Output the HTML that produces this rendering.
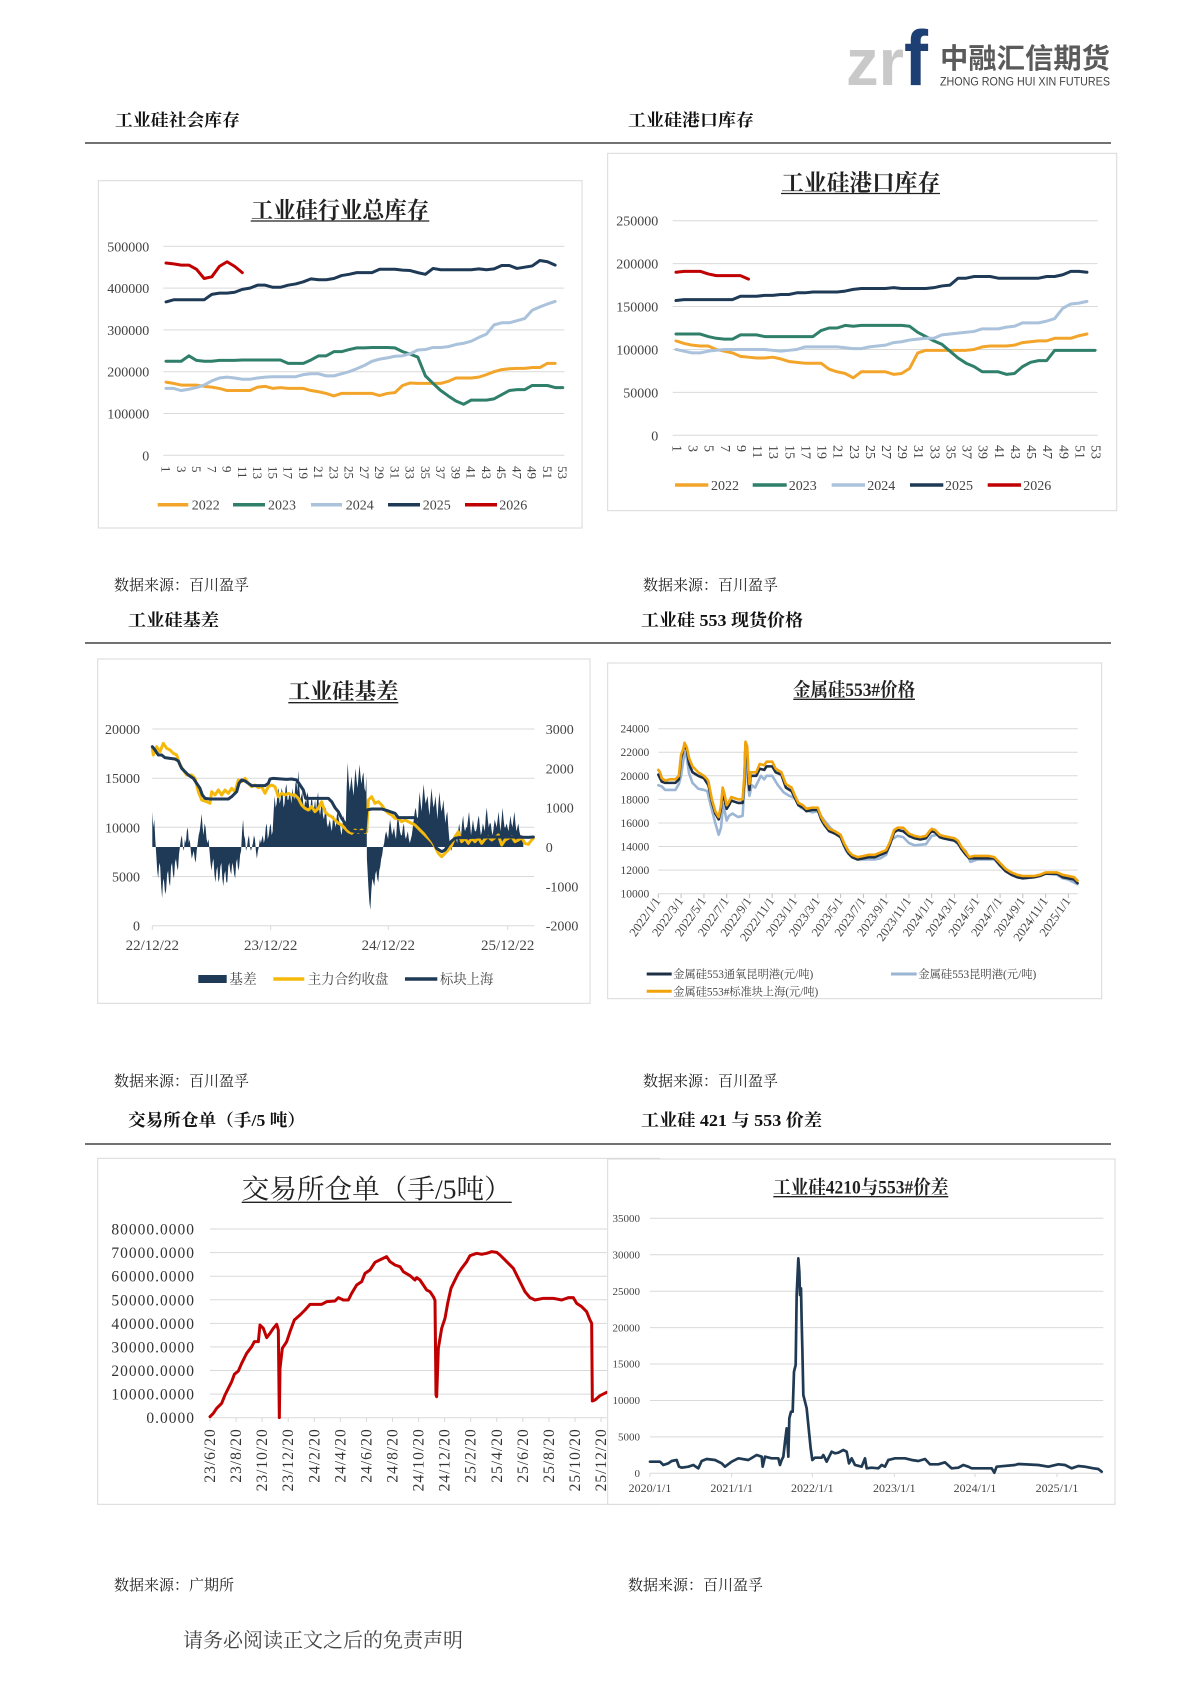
<!DOCTYPE html>
<html><head><meta charset="utf-8"><style>
html,body{margin:0;padding:0;background:#fff;}
svg{display:block;}
text{font-family:"Liberation Serif","Noto Serif CJK SC",serif;}
.ln{fill:none;stroke-linejoin:round;stroke-linecap:round;}
</style></head><body>
<svg width="1190" height="1683" viewBox="0 0 1190 1683" xmlns="http://www.w3.org/2000/svg">
<rect x="0" y="0" width="1190" height="1683" fill="#fff"/>

<!-- LOGO -->
<text x="846" y="85" font-weight="bold" font-size="66" fill="#c9c9c9" textLength="58" lengthAdjust="spacingAndGlyphs" style="font-family:'Liberation Sans',sans-serif">zr</text>
<text x="904" y="85" font-weight="bold" font-size="78" fill="#1d3f73" textLength="24" lengthAdjust="spacingAndGlyphs" style="font-family:'Liberation Sans',sans-serif">f</text>
<text x="940" y="68" font-weight="bold" font-size="28" fill="#5a5a5a" textLength="170" lengthAdjust="spacingAndGlyphs" style="font-family:'Liberation Sans','Noto Sans CJK SC',sans-serif">中融汇信期货</text>
<text x="940" y="85.5" font-size="11.5" fill="#444" textLength="170" lengthAdjust="spacingAndGlyphs" style="font-family:'Liberation Sans',sans-serif">ZHONG RONG HUI XIN FUTURES</text>

<!-- SECTION HEADERS -->
<g font-size="17" font-weight="bold" fill="#111">
<text x="115" y="126" textLength="125" lengthAdjust="spacingAndGlyphs">工业硅社会库存</text>
<text x="628" y="126" textLength="126" lengthAdjust="spacingAndGlyphs">工业硅港口库存</text>
<text x="128" y="626" textLength="91" lengthAdjust="spacingAndGlyphs">工业硅基差</text>
<text x="641" y="626" textLength="162" lengthAdjust="spacingAndGlyphs">工业硅 553 现货价格</text>
<text x="128" y="1126" textLength="177" lengthAdjust="spacingAndGlyphs">交易所仓单（手/5 吨）</text>
<text x="641" y="1126" textLength="181" lengthAdjust="spacingAndGlyphs">工业硅 421 与 553 价差</text>
</g>
<g stroke="#444" stroke-width="1.5">
<line x1="85" y1="143" x2="1111" y2="143"/>
<line x1="85" y1="643" x2="1111" y2="643"/>
<line x1="85" y1="1144" x2="1111" y2="1144"/>
</g>

<!-- SOURCES -->
<g font-size="15" fill="#222">
<text x="114" y="590" textLength="135" lengthAdjust="spacingAndGlyphs">数据来源：百川盈孚</text>
<text x="643" y="590" textLength="135" lengthAdjust="spacingAndGlyphs">数据来源：百川盈孚</text>
<text x="114" y="1086" textLength="135" lengthAdjust="spacingAndGlyphs">数据来源：百川盈孚</text>
<text x="643" y="1086" textLength="135" lengthAdjust="spacingAndGlyphs">数据来源：百川盈孚</text>
<text x="114" y="1590" textLength="120" lengthAdjust="spacingAndGlyphs">数据来源：广期所</text>
<text x="628" y="1590" textLength="135" lengthAdjust="spacingAndGlyphs">数据来源：百川盈孚</text>
</g>
<text x="183" y="1647" font-size="20" fill="#444" textLength="280" lengthAdjust="spacingAndGlyphs">请务必阅读正文之后的免责声明</text>

<!-- ================= CHART 1 ================= -->
<rect x="98.3" y="180.7" width="483.7" height="347.3" fill="#fff" stroke="#d9d9d9" stroke-width="1"/>
<text x="340" y="218" font-size="23" font-weight="bold" fill="#222" text-anchor="middle" textLength="178" lengthAdjust="spacingAndGlyphs">工业硅行业总库存</text>
<line x1="250.7" y1="221" x2="429.3" y2="221" stroke="#222" stroke-width="1.3"/>
<g stroke="#d9d9d9" stroke-width="1">
<line x1="163.3" y1="246.3" x2="564.3" y2="246.3"/><line x1="163.3" y1="288.1" x2="564.3" y2="288.1"/>
<line x1="163.3" y1="329.9" x2="564.3" y2="329.9"/><line x1="163.3" y1="371.7" x2="564.3" y2="371.7"/>
<line x1="163.3" y1="413.5" x2="564.3" y2="413.5"/><line x1="163.3" y1="455.3" x2="564.3" y2="455.3"/>
</g>
<g font-size="14" fill="#444" text-anchor="end">
<text x="149.3" y="251.3">500000</text><text x="149.3" y="293.1">400000</text><text x="149.3" y="334.9">300000</text>
<text x="149.3" y="376.7">200000</text><text x="149.3" y="418.5">100000</text><text x="149.3" y="460.3">0</text>
</g>
<g font-size="13" fill="#444" dominant-baseline="central">
<text transform="translate(166,466) rotate(90)">1</text>
<text transform="translate(181.3,466) rotate(90)">3</text>
<text transform="translate(196.5,466) rotate(90)">5</text>
<text transform="translate(211.8,466) rotate(90)">7</text>
<text transform="translate(227,466) rotate(90)">9</text>
<text transform="translate(242.3,466) rotate(90)">11</text>
<text transform="translate(257.6,466) rotate(90)">13</text>
<text transform="translate(272.8,466) rotate(90)">15</text>
<text transform="translate(288.1,466) rotate(90)">17</text>
<text transform="translate(303.3,466) rotate(90)">19</text>
<text transform="translate(318.6,466) rotate(90)">21</text>
<text transform="translate(333.9,466) rotate(90)">23</text>
<text transform="translate(349.1,466) rotate(90)">25</text>
<text transform="translate(364.4,466) rotate(90)">27</text>
<text transform="translate(379.6,466) rotate(90)">29</text>
<text transform="translate(394.9,466) rotate(90)">31</text>
<text transform="translate(410.2,466) rotate(90)">33</text>
<text transform="translate(425.4,466) rotate(90)">35</text>
<text transform="translate(440.7,466) rotate(90)">37</text>
<text transform="translate(455.9,466) rotate(90)">39</text>
<text transform="translate(471.2,466) rotate(90)">41</text>
<text transform="translate(486.5,466) rotate(90)">43</text>
<text transform="translate(501.7,466) rotate(90)">45</text>
<text transform="translate(517,466) rotate(90)">47</text>
<text transform="translate(532.2,466) rotate(90)">49</text>
<text transform="translate(547.5,466) rotate(90)">51</text>
<text transform="translate(562.7,466) rotate(90)">53</text>
</g>
<g transform="translate(158.37,455.3) scale(7.63,-0.418)">
<polyline class="ln" vector-effect="non-scaling-stroke" stroke="#f2a52a" stroke-width="3" points="1,175 2,172 3,168 4,168 5,168 6,165 7,163 8,160 9,155 10,155 11,155 12,155 13,163 14,165 15,160 16,162 17,160 18,160 19,160 20,155 21,152 22,148 23,142 24,148 25,148 26,148 27,148 28,148 29,143 30,148 31,150 32,167 33,173 34,172 35,172 36,172 37,172 38,177 39,185 40,185 41,185 42,187 43,193 44,200 45,205 46,207 47,208 48,208 49,210 50,210 51,220 52,220"/>
<polyline class="ln" vector-effect="non-scaling-stroke" stroke="#2f7f6a" stroke-width="3" points="1,225 2,225 3,225 4,238 5,227 6,225 7,225 8,227 9,227 10,227 11,228 12,228 13,228 14,228 15,228 16,228 17,220 18,220 19,220 20,228 21,238 22,238 23,248 24,248 25,253 26,257 27,257 28,258 29,258 30,258 31,257 32,248 33,242 34,235 35,190 36,172 37,155 38,142 39,130 40,122 41,132 42,132 43,132 44,135 45,145 46,155 47,157 48,157 49,167 50,167 51,167 52,162 53,162"/>
<polyline class="ln" vector-effect="non-scaling-stroke" stroke="#aac2db" stroke-width="3" points="1,160 2,160 3,155 4,158 5,162 6,168 7,178 8,185 9,187 10,185 11,182 12,182 13,185 14,187 15,188 16,188 17,188 18,188 19,193 20,195 21,195 22,190 23,190 24,195 25,200 26,207 27,215 28,225 29,230 30,233 31,237 32,238 33,243 34,252 35,253 36,258 37,258 38,260 39,265 40,268 41,273 42,282 43,290 44,312 45,317 46,317 47,322 48,327 49,347 50,355 51,362 52,368"/>
<polyline class="ln" vector-effect="non-scaling-stroke" stroke="#1f3a56" stroke-width="3" points="1,367 2,372 3,372 4,372 5,372 6,372 7,385 8,388 9,388 10,390 11,397 12,400 13,407 14,407 15,402 16,402 17,407 18,410 19,415 20,422 21,420 22,420 23,423 24,430 25,433 26,437 27,437 28,437 29,445 30,445 31,445 32,443 33,442 34,437 35,433 36,447 37,444 38,444 39,444 40,444 41,444 42,446 43,444 44,446 45,454 46,454 47,447 48,450 49,453 50,466 51,463 52,455"/>
<polyline class="ln" vector-effect="non-scaling-stroke" stroke="#c00000" stroke-width="3" points="1,460 2,458 3,455 4,455 5,445 6,423 7,427 8,452 9,463 10,452 11,437"/>
</g>
<g stroke-width="3.5">
<line x1="157.7" y1="504.7" x2="188.3" y2="504.7" stroke="#f2a52a"/>
<line x1="233" y1="504.7" x2="265" y2="504.7" stroke="#2f7f6a"/>
<line x1="311" y1="504.7" x2="342" y2="504.7" stroke="#aac2db"/>
<line x1="388" y1="504.7" x2="420" y2="504.7" stroke="#1f3a56"/>
<line x1="465" y1="504.7" x2="497" y2="504.7" stroke="#c00000"/>
</g>
<g font-size="14" fill="#444">
<text x="191.7" y="509.7">2022</text><text x="268" y="509.7">2023</text><text x="345.7" y="509.7">2024</text>
<text x="422.7" y="509.7">2025</text><text x="499.3" y="509.7">2026</text>
</g>

<!-- ================= CHART 2 ================= -->
<rect x="607.7" y="153.3" width="509" height="357.4" fill="#fff" stroke="#d9d9d9" stroke-width="1"/>
<text x="860.7" y="190.7" font-size="23" font-weight="bold" fill="#222" text-anchor="middle" textLength="159" lengthAdjust="spacingAndGlyphs">工业硅港口库存</text>
<line x1="781" y1="193.5" x2="940" y2="193.5" stroke="#222" stroke-width="1.3"/>
<g stroke="#d9d9d9" stroke-width="1">
<line x1="672.7" y1="220.7" x2="1097.7" y2="220.7"/><line x1="672.7" y1="263.6" x2="1097.7" y2="263.6"/>
<line x1="672.7" y1="306.5" x2="1097.7" y2="306.5"/><line x1="672.7" y1="349.5" x2="1097.7" y2="349.5"/>
<line x1="672.7" y1="392.4" x2="1097.7" y2="392.4"/><line x1="672.7" y1="435.3" x2="1097.7" y2="435.3"/>
</g>
<g font-size="14" fill="#444" text-anchor="end">
<text x="658.3" y="225.7">250000</text><text x="658.3" y="268.6">200000</text><text x="658.3" y="311.5">150000</text>
<text x="658.3" y="354.5">100000</text><text x="658.3" y="397.4">50000</text><text x="658.3" y="440.3">0</text>
</g>
<g font-size="14" fill="#444" dominant-baseline="central">
<text transform="translate(676,445) rotate(90)">1</text>
<text transform="translate(692.1,445) rotate(90)">3</text>
<text transform="translate(708.2,445) rotate(90)">5</text>
<text transform="translate(724.3,445) rotate(90)">7</text>
<text transform="translate(740.5,445) rotate(90)">9</text>
<text transform="translate(756.6,445) rotate(90)">11</text>
<text transform="translate(772.7,445) rotate(90)">13</text>
<text transform="translate(788.8,445) rotate(90)">15</text>
<text transform="translate(804.9,445) rotate(90)">17</text>
<text transform="translate(821,445) rotate(90)">19</text>
<text transform="translate(837.2,445) rotate(90)">21</text>
<text transform="translate(853.3,445) rotate(90)">23</text>
<text transform="translate(869.4,445) rotate(90)">25</text>
<text transform="translate(885.5,445) rotate(90)">27</text>
<text transform="translate(901.6,445) rotate(90)">29</text>
<text transform="translate(917.7,445) rotate(90)">31</text>
<text transform="translate(933.9,445) rotate(90)">33</text>
<text transform="translate(950,445) rotate(90)">35</text>
<text transform="translate(966.1,445) rotate(90)">37</text>
<text transform="translate(982.2,445) rotate(90)">39</text>
<text transform="translate(998.3,445) rotate(90)">41</text>
<text transform="translate(1014.4,445) rotate(90)">43</text>
<text transform="translate(1030.6,445) rotate(90)">45</text>
<text transform="translate(1046.7,445) rotate(90)">47</text>
<text transform="translate(1062.8,445) rotate(90)">49</text>
<text transform="translate(1078.9,445) rotate(90)">51</text>
<text transform="translate(1095,445) rotate(90)">53</text>
</g>
<g transform="translate(667.94,435.3) scale(8.058,-0.8584)">
<polyline class="ln" vector-effect="non-scaling-stroke" stroke="#f2a52a" stroke-width="3" points="1,110 2,107 3,105 4,104 5,104 6,100 7,98 8,96 9,92 10,91 11,90 12,90 13,91 14,89 15,86 16,85 17,84 18,84 19,84 20,77 21,74 22,72 23,67 24,74 25,74 26,74 27,74 28,71 29,72 30,78 31,96 32,99 33,99 34,99 35,99 36,99 37,99 38,100 39,103 40,104 41,104 42,104 43,105 44,108 45,109 46,110 47,110 48,113 49,113 50,113 51,116 52,118"/>
<polyline class="ln" vector-effect="non-scaling-stroke" stroke="#2f7f6a" stroke-width="3" points="1,118 2,118 3,118 4,118 5,115 6,113 7,112 8,112 9,117 10,117 11,117 12,115 13,115 14,115 15,115 16,115 17,115 18,115 19,122 20,125 21,125 22,128 23,127 24,128 25,128 26,128 27,128 28,128 29,128 30,127 31,120 32,115 33,110 34,106 35,98 36,90 37,84 38,80 39,74 40,74 41,74 42,71 43,72 44,80 45,85 46,87 47,87 48,99 49,99 50,99 51,99 52,99 53,99"/>
<polyline class="ln" vector-effect="non-scaling-stroke" stroke="#aac2db" stroke-width="3" points="1,100 2,98 3,96 4,96 5,98 6,99 7,100 8,100 9,100 10,100 11,100 12,100 13,99 14,98 15,99 16,100 17,103 18,103 19,103 20,103 21,103 22,102 23,101 24,101 25,103 26,104 27,105 28,108 29,109 30,111 31,112 32,113 33,113 34,117 35,118 36,119 37,120 38,121 39,124 40,124 41,124 42,126 43,127 44,131 45,131 46,131 47,133 48,136 49,148 50,153 51,154 52,156"/>
<polyline class="ln" vector-effect="non-scaling-stroke" stroke="#1f3a56" stroke-width="3" points="1,157 2,158 3,158 4,158 5,158 6,158 7,158 8,158 9,162 10,162 11,162 12,163 13,163 14,164 15,164 16,166 17,166 18,167 19,167 20,167 21,167 22,168 23,170 24,171 25,171 26,171 27,171 28,172 29,171 30,171 31,171 32,171 33,172 34,174 35,175 36,183 37,183 38,185 39,185 40,185 41,183 42,183 43,183 44,183 45,183 46,183 47,185 48,185 49,187 50,191 51,191 52,190"/>
<polyline class="ln" vector-effect="non-scaling-stroke" stroke="#c00000" stroke-width="3" points="1,190 2,191 3,191 4,191 5,188 6,186 7,186 8,186 9,186 10,182"/>
</g>
<g stroke-width="3.5">
<line x1="675" y1="485" x2="708.3" y2="485" stroke="#f2a52a"/>
<line x1="752.7" y1="485" x2="786.7" y2="485" stroke="#2f7f6a"/>
<line x1="831.7" y1="485" x2="865" y2="485" stroke="#aac2db"/>
<line x1="910" y1="485" x2="943.3" y2="485" stroke="#1f3a56"/>
<line x1="987.7" y1="485" x2="1021" y2="485" stroke="#c00000"/>
</g>
<g font-size="14" fill="#444">
<text x="711" y="490">2022</text><text x="788.7" y="490">2023</text><text x="867.3" y="490">2024</text>
<text x="945" y="490">2025</text><text x="1023.3" y="490">2026</text>
</g>

<!-- ================= CHART 3 ================= -->
<rect x="97.7" y="659" width="492.3" height="344.3" fill="#fff" stroke="#d9d9d9" stroke-width="1"/>
<text x="343.3" y="699" font-size="22" font-weight="bold" fill="#222" text-anchor="middle" textLength="110" lengthAdjust="spacingAndGlyphs">工业硅基差</text>
<line x1="288.3" y1="702.7" x2="398.3" y2="702.7" stroke="#222" stroke-width="1.3"/>
<g stroke="#d9d9d9" stroke-width="1">
<line x1="152.3" y1="729" x2="534.3" y2="729"/><line x1="152.3" y1="778.2" x2="534.3" y2="778.2"/>
<line x1="152.3" y1="827.3" x2="534.3" y2="827.3"/><line x1="152.3" y1="876.5" x2="534.3" y2="876.5"/>
<line x1="152.3" y1="925.7" x2="534.3" y2="925.7"/>
<line x1="152.3" y1="925.7" x2="152.3" y2="930"/><line x1="270.7" y1="925.7" x2="270.7" y2="930"/>
<line x1="388.3" y1="925.7" x2="388.3" y2="930"/><line x1="507.7" y1="925.7" x2="507.7" y2="930"/>
</g>
<g font-size="14" fill="#444" text-anchor="end">
<text x="140" y="734">20000</text><text x="140" y="783.2">15000</text><text x="140" y="832.3">10000</text>
<text x="140" y="881.5">5000</text><text x="140" y="930.7">0</text>
</g>
<g font-size="14" fill="#444">
<text x="545.7" y="734">3000</text><text x="545.7" y="773.3">2000</text><text x="545.7" y="812.7">1000</text>
<text x="545.7" y="852">0</text><text x="545.7" y="891.3">-1000</text><text x="545.7" y="930.7">-2000</text>
</g>
<g font-size="15" fill="#444" text-anchor="middle">
<text x="152.3" y="950">22/12/22</text><text x="270.7" y="950">23/12/22</text>
<text x="388.3" y="950">24/12/22</text><text x="507.7" y="950">25/12/22</text>
</g>
<g transform="translate(152.3,847) scale(9.867,-3.933)">
<polygon fill="#1f3a56" points="0,0 0,9 0.1,5 0.2,7 0.3,2 0.4,-2 0.5,-6 0.6,-8 0.7,-4 0.8,-5 0.9,-10 1.0,-13 1.1,-8 1.2,-9 1.3,-12 1.4,-11 1.5,-7 1.6,-6 1.7,-9 1.8,-10 1.9,-5 2.0,-4 2.1,-7 2.2,-8 2.3,-4 2.4,-3 2.5,-5 2.6,-6 2.7,-2 2.8,0 2.9,2 3.0,3 3.1,0 3.2,-1 3.3,2 3.4,1 3.5,4 3.6,5 3.7,1 3.8,2 3.9,-1 4.0,-3 4.1,-2 4.2,-1 4.3,-3 4.4,-4 4.5,-1 4.6,1 4.7,3 4.8,4 4.9,6 5.0,8.5 5.1,5 5.2,3 5.3,6 5.4,5 5.5,2 5.6,1 5.7,2 5.8,-1 5.9,-4 6.0,-6 6.1,-4 6.2,-3 6.3,-7 6.4,-9 6.5,-6 6.6,-5 6.7,-9 6.8,-8 6.9,-5 7.0,-4 7.1,-8 7.2,-10 7.3,-7 7.4,-6 7.5,-9 7.6,-9 7.7,-5 7.8,-4 7.9,-6 8.0,-7 8.1,-4 8.2,-5 8.3,-7 8.4,-8 8.5,-4 8.6,-3 8.7,-6 8.8,-5 8.9,-2 9.0,-1 9.1,4 9.2,7 9.3,3 9.4,2 9.5,-1 9.6,0 9.7,2 9.8,3 9.9,0 10.0,-1 10.1,0 10.2,1 10.3,3 10.4,2 10.5,-1 10.6,-3 10.7,-1 10.8,0 10.9,2 11.0,1 11.1,2 11.2,3 11.3,1 11.4,2 11.5,5 11.6,6 11.7,2 11.8,3 11.9,5 12.0,6 12.1,3 12.2,4 12.3,9 12.4,13 12.5,10 12.6,11 12.7,14 12.8,15 12.9,11 13.0,12 13.1,15 13.2,14 13.3,10 13.4,11 13.5,15 13.6,16 13.7,12 13.8,12 13.9,14 14.0,13 14.1,11 14.2,15 14.3,13 14.4,12 14.5,16 14.6,17 14.7,14 14.8,19.5 14.9,15 15.0,12 15.1,13 15.2,14 15.3,11 15.4,10 15.5,12 15.6,11 15.7,14 15.8,13 15.9,10 16.0,9 16.1,12 16.2,12 16.3,9 16.4,10 16.5,12 16.6,9 16.7,12 16.8,14 16.9,10 17.0,8 17.1,10 17.2,11 17.3,8 17.4,7 17.5,9 17.6,10 17.7,6 17.8,5 17.9,6 18.0,7 18.1,5 18.2,4 18.3,7 18.4,8 18.5,6 18.6,5 18.7,8 18.8,9 18.9,7 19.0,6 19.1,4 19.2,3 19.3,6 19.4,8 19.5,6 19.6,5 19.7,15 19.8,21.5 19.9,17 20.0,14 20.1,16 20.2,18 20.3,15 20.4,13 20.5,17 20.6,20 20.7,17 20.8,15 20.9,18 21.0,21 21.1,18 21.2,16 21.3,18 21.4,19 21.5,15 21.6,14 21.7,18 21.75,-3 21.9,-10 22.0,-14 22.1,-16 22.2,-11 22.3,-8 22.4,-9 22.5,-10 22.6,-7 22.7,-6 22.8,-8 22.9,-9 23.0,-6 23.1,-5 23.2,-3 23.3,-2 23.4,0 23.5,1 23.6,3 23.7,4 23.8,3 23.9,2 24.0,5 24.1,7 24.2,5 24.3,3 24.4,4 24.5,5 24.6,3 24.7,2 24.8,6 24.9,8 25.0,6 25.1,4 25.2,3 25.3,3 25.4,5 25.5,6 25.6,3 25.7,2 25.8,3 25.9,4 26.0,2 26.1,1 26.2,2 26.3,3 26.4,5 26.5,7 26.6,9 26.7,10 26.8,8 26.9,6 27.0,11 27.1,14 27.2,11 27.3,9 27.4,13 27.5,16 27.6,13 27.7,11 27.8,12 27.9,13 28.0,10 28.1,8 28.2,12 28.3,15 28.4,12 28.5,10 28.6,11 28.7,13 28.8,10 28.9,7 29.0,11 29.1,14 29.2,11 29.3,9 29.4,10 29.5,12 29.6,9 29.7,6 29.8,8 29.9,9 30.0,5 30.1,2 30.2,0 30.3,-1 30.4,0 30.5,1 30.6,2 30.7,3 30.8,2 30.9,1 31.0,4 31.1,6 31.2,4 31.3,3 31.4,6 31.5,8 31.6,5 31.7,4 31.8,5 31.9,5 32.0,7 32.1,9 32.2,6 32.3,3 32.4,5 32.5,7 32.6,5 32.7,4 32.8,4 32.9,5 33.0,7 33.1,8 33.2,5 33.3,3 33.4,4 33.5,6 33.6,5 33.7,4 33.8,8 33.9,10 34.0,7 34.1,5 34.2,6 34.3,6 34.4,4 34.5,3 34.6,5 34.7,7 34.8,6 34.9,5 35.0,7 35.1,9 35.2,6 35.3,4 35.4,7 35.5,10 35.6,7 35.7,5 35.8,5 35.9,6 36.0,5 36.1,4 36.2,6 36.3,8 36.4,6 36.5,5 36.6,7 36.7,9 36.8,6 36.9,4 37.0,5 37.1,6 37.2,4 37.3,3 37.45,3 37.6,2 37.6,0"/>
</g>
<g transform="translate(95,655) scale(0.33333)">
<polyline class="ln" vector-effect="non-scaling-stroke" stroke="#f5b90a" stroke-width="3" points="172,280 175,300 185,275 195,290 205,265 215,280 225,285 235,295 245,300 255,330 265,345 275,360 290,360 300,370 310,410 320,435 335,440 345,445 350,410 360,420 370,405 380,420 390,405 400,415 410,400 420,410 430,375 440,380 450,370 460,385 470,395 480,390 490,398 500,395 510,415 520,395 530,390 540,395 550,425 560,415 570,420 580,415 590,420 600,420 610,430 620,450 630,460 640,465 650,455 660,470 670,460 680,440 690,470 700,480 710,485 720,495 730,505 740,510 750,520 760,530 770,535 780,525 790,532 800,525 810,532 815,530 820,435 830,425 840,445 850,440 860,450 870,465 880,475 890,480 900,490 910,490 920,500 930,495 940,500 950,505 960,510 970,520 980,530 990,540 1000,550 1010,560 1020,575 1030,595 1040,605 1050,595 1060,585 1070,570 1080,545 1090,530 1100,560 1110,550 1120,565 1130,550 1140,560 1150,548 1160,565 1170,552 1180,545 1190,555 1200,548 1210,540 1220,570 1230,555 1240,550 1250,545 1260,560 1270,555 1280,548 1290,565 1300,568 1310,555 1315,550"/>
<polyline class="ln" vector-effect="non-scaling-stroke" stroke="#1f3a56" stroke-width="3" points="172,275 180,285 190,300 200,300 210,308 225,310 240,312 250,318 260,340 270,350 280,360 295,370 305,385 315,400 322,420 330,430 345,432 360,432 380,432 400,432 410,425 415,420 425,410 432,385 440,375 450,378 460,385 470,392 490,392 510,392 520,385 525,372 535,370 560,372 575,373 590,372 605,375 615,390 625,405 632,430 660,430 700,430 710,440 720,458 730,470 740,490 750,505 760,520 770,528 790,530 810,530 815,465 830,462 860,462 870,465 880,468 900,475 910,488 930,488 960,488 970,495 980,510 990,525 1000,540 1015,560 1025,580 1040,590 1050,585 1060,570 1070,558 1080,550 1090,548 1120,548 1150,546 1200,546 1250,546 1300,547 1315,546"/>
</g>
<rect x="198.3" y="975" width="28.4" height="8" fill="#1f3a56"/>
<line x1="273.3" y1="979" x2="304.3" y2="979" stroke="#f5b90a" stroke-width="3.5"/>
<line x1="405" y1="979" x2="437.3" y2="979" stroke="#1f3a56" stroke-width="3.5"/>
<g font-size="14" fill="#444">
<text x="229.3" y="984" textLength="27.3" lengthAdjust="spacingAndGlyphs">基差</text>
<text x="307.7" y="984" textLength="80.7" lengthAdjust="spacingAndGlyphs">主力合约收盘</text>
<text x="440" y="984" textLength="53.3" lengthAdjust="spacingAndGlyphs">标块上海</text>
</g>

<!-- ================= CHART 4 ================= -->
<rect x="607.7" y="663" width="494" height="335.7" fill="#fff" stroke="#d9d9d9" stroke-width="1"/>
<text x="854" y="696" font-size="19" font-weight="bold" fill="#222" text-anchor="middle" textLength="122" lengthAdjust="spacingAndGlyphs">金属硅553#价格</text>
<line x1="793.3" y1="699.3" x2="915" y2="699.3" stroke="#222" stroke-width="1.3"/>
<g stroke="#d9d9d9" stroke-width="1">
<line x1="658.3" y1="728.7" x2="1077.7" y2="728.7"/><line x1="658.3" y1="752.2" x2="1077.7" y2="752.2"/>
<line x1="658.3" y1="775.8" x2="1077.7" y2="775.8"/><line x1="658.3" y1="799.4" x2="1077.7" y2="799.4"/>
<line x1="658.3" y1="823" x2="1077.7" y2="823"/><line x1="658.3" y1="846.5" x2="1077.7" y2="846.5"/>
<line x1="658.3" y1="870.1" x2="1077.7" y2="870.1"/><line x1="658.3" y1="893.7" x2="1077.7" y2="893.7"/>
</g>
<g stroke="#bfbfbf" stroke-width="1">
<line x1="658.3" y1="893.7" x2="658.3" y2="898"/><line x1="681.1" y1="893.7" x2="681.1" y2="898"/><line x1="703.9" y1="893.7" x2="703.9" y2="898"/><line x1="726.7" y1="893.7" x2="726.7" y2="898"/><line x1="749.4" y1="893.7" x2="749.4" y2="898"/><line x1="772.2" y1="893.7" x2="772.2" y2="898"/><line x1="795" y1="893.7" x2="795" y2="898"/><line x1="817.8" y1="893.7" x2="817.8" y2="898"/><line x1="840.6" y1="893.7" x2="840.6" y2="898"/><line x1="863.4" y1="893.7" x2="863.4" y2="898"/><line x1="886.1" y1="893.7" x2="886.1" y2="898"/><line x1="908.9" y1="893.7" x2="908.9" y2="898"/><line x1="931.7" y1="893.7" x2="931.7" y2="898"/><line x1="954.5" y1="893.7" x2="954.5" y2="898"/><line x1="977.3" y1="893.7" x2="977.3" y2="898"/><line x1="1000.1" y1="893.7" x2="1000.1" y2="898"/><line x1="1022.8" y1="893.7" x2="1022.8" y2="898"/><line x1="1045.6" y1="893.7" x2="1045.6" y2="898"/><line x1="1068.4" y1="893.7" x2="1068.4" y2="898"/>
</g>
<g font-size="11.5" fill="#444" text-anchor="end">
<text x="649.3" y="732.7">24000</text><text x="649.3" y="756.2">22000</text><text x="649.3" y="779.8">20000</text>
<text x="649.3" y="803.4">18000</text><text x="649.3" y="827">16000</text><text x="649.3" y="850.5">14000</text>
<text x="649.3" y="874.1">12000</text><text x="649.3" y="897.7">10000</text>
</g>
<g font-size="12.5" fill="#444" text-anchor="end">
<text transform="translate(661,901) rotate(-55)">2022/1/1</text>
<text transform="translate(683.8,901) rotate(-55)">2022/3/1</text>
<text transform="translate(706.6,901) rotate(-55)">2022/5/1</text>
<text transform="translate(729.4,901) rotate(-55)">2022/7/1</text>
<text transform="translate(752.1,901) rotate(-55)">2022/9/1</text>
<text transform="translate(774.9,901) rotate(-55)">2022/11/1</text>
<text transform="translate(797.7,901) rotate(-55)">2023/1/1</text>
<text transform="translate(820.5,901) rotate(-55)">2023/3/1</text>
<text transform="translate(843.3,901) rotate(-55)">2023/5/1</text>
<text transform="translate(866.1,901) rotate(-55)">2023/7/1</text>
<text transform="translate(888.8,901) rotate(-55)">2023/9/1</text>
<text transform="translate(911.6,901) rotate(-55)">2023/11/1</text>
<text transform="translate(934.4,901) rotate(-55)">2024/1/1</text>
<text transform="translate(957.2,901) rotate(-55)">2024/3/1</text>
<text transform="translate(980,901) rotate(-55)">2024/5/1</text>
<text transform="translate(1002.8,901) rotate(-55)">2024/7/1</text>
<text transform="translate(1025.5,901) rotate(-55)">2024/9/1</text>
<text transform="translate(1048.3,901) rotate(-55)">2024/11/1</text>
<text transform="translate(1071.1,901) rotate(-55)">2025/1/1</text>
</g>
<g transform="translate(658.33,1011.55) scale(11.39,-11.787)">
<polyline class="ln" vector-effect="non-scaling-stroke" stroke="#9bb5d4" stroke-width="2.6" points="0,19.2 0.3,19.1 0.6,18.8 1.5,18.8 1.8,19.3 2,20.0 2.3,22.0 2.5,21.5 2.7,20.2 3,19.4 3.5,18.9 4,18.8 4.3,18.7 4.6,17.5 5,16.0 5.3,15.0 5.5,15.6 5.7,17.6 6,16.2 6.2,16.6 6.5,16.8 7,16.5 7.4,16.6 7.55,19.0 7.65,21.0 7.8,20.5 7.9,19.0 8.0,18.3 8.2,19.2 8.5,19.0 9,20.0 9.3,19.7 9.5,20.0 10,20.0 10.5,19.2 11,18.6 11.5,18.3 12,18.1 12.5,17.3 13,17.1 13.5,16.9 14,17.0 14.5,16.3 15,15.7 15.5,15.2 16,14.8 16.5,13.6 17,13.2 17.5,12.9 19,12.9 19.5,13.0 20,13.3 20.5,14.6 21,14.9 21.5,14.8 22,14.3 22.5,14.1 23.5,14.2 24,14.9 24.5,15.0 25,14.7 26,14.5 26.5,14.0 27,13.6 27.4,12.7 28,12.9 29.5,12.9 30,12.4 31,11.7 32,11.3 33,11.4 34,11.7 35,11.6 35.5,11.3 36,11.2 36.8,10.8"/>
<polyline class="ln" vector-effect="non-scaling-stroke" stroke="#1c2f45" stroke-width="2.6" points="0,20.1 0.3,19.5 0.6,19.4 1.5,19.4 1.8,19.7 2,21.5 2.3,22.6 2.5,22.2 2.7,21.0 3,20.3 3.5,20.0 4,19.8 4.4,19.2 4.7,17.8 5,16.8 5.3,16.3 5.5,17.2 5.65,18.7 5.8,18.0 6,17.2 6.2,17.5 6.4,17.9 7,17.7 7.4,17.7 7.55,19.5 7.65,22.7 7.8,22.0 7.9,19.8 8,18.8 8.1,20.0 8.6,20.0 8.9,20.6 9.3,20.5 9.5,20.8 10,20.8 10.3,20.3 10.8,20.1 11.2,19.0 11.7,18.7 12,18.1 12.3,17.5 12.7,17.3 13,17.0 13.5,17.1 14,17.1 14.3,16.3 14.6,15.8 15,15.3 15.5,15.1 16,14.8 16.3,14.1 16.7,13.4 17,13.1 17.5,12.9 18,13.0 18.5,13.1 19,13.1 19.5,13.3 20,13.5 20.3,14.1 20.7,15.2 21,15.4 21.5,15.3 22,14.9 22.5,14.7 23,14.6 23.5,14.7 23.8,15.1 24,15.3 24.3,15.2 24.7,14.8 25,14.7 25.5,14.6 26,14.5 26.3,14.3 26.6,13.8 27,13.3 27.3,13.0 27.7,13.0 29.5,13.0 30,12.4 30.5,11.9 31,11.6 31.5,11.4 32,11.3 33,11.4 33.5,11.5 34,11.7 35,11.7 35.5,11.4 36,11.3 36.5,11.2 36.8,10.9"/>
<polyline class="ln" vector-effect="non-scaling-stroke" stroke="#f0a30a" stroke-width="2.6" points="0,20.5 0.15,20.3 0.3,19.8 0.6,19.6 1,19.7 1.5,19.7 1.8,20.0 2,21.8 2.2,22.3 2.3,22.8 2.5,22.4 2.7,21.5 3,20.8 3.5,20.3 4,20.0 4.3,19.7 4.4,19.5 4.7,18.0 5,17.0 5.3,16.5 5.5,17.5 5.65,19.0 5.8,18.5 6,17.5 6.2,17.8 6.4,18.2 7,18.0 7.4,18.0 7.55,20.0 7.65,22.9 7.8,22.5 7.9,20.5 8.0,19.3 8.1,20.3 8.6,20.3 8.9,21.0 9.3,20.9 9.5,21.2 10,21.2 10.3,20.6 10.8,20.3 11.2,19.3 11.7,19.0 12,18.3 12.3,17.7 12.7,17.5 13,17.2 13.5,17.3 14,17.3 14.3,16.5 14.6,16.0 15,15.5 15.5,15.3 16,15.0 16.3,14.3 16.7,13.6 17,13.3 17.5,13.1 18,13.2 18.5,13.3 19,13.3 19.5,13.5 20,13.7 20.3,14.3 20.7,15.4 21,15.6 21.5,15.6 22,15.1 22.5,14.9 23,14.8 23.5,14.9 23.8,15.3 24,15.5 24.3,15.4 24.7,15.0 25,14.9 25.5,14.8 26,14.7 26.3,14.5 26.6,14.0 27,13.5 27.3,13.1 27.7,13.2 28.5,13.2 29,13.2 29.5,13.1 30,12.6 30.5,12.1 31,11.8 31.5,11.6 32,11.5 33,11.5 33.5,11.6 34,11.8 35,11.8 35.5,11.6 36,11.5 36.5,11.4 36.8,11.1"/>
</g>
<line x1="646.7" y1="974" x2="671.7" y2="974" stroke="#1c2f45" stroke-width="3"/>
<line x1="891" y1="974" x2="916.7" y2="974" stroke="#9bb5d4" stroke-width="3"/>
<line x1="646.7" y1="991.3" x2="671.7" y2="991.3" stroke="#f0a30a" stroke-width="3"/>
<g font-size="11.5" fill="#444">
<text x="673.3" y="978" textLength="140" lengthAdjust="spacingAndGlyphs">金属硅553通氧昆明港(元/吨)</text>
<text x="918.3" y="978" textLength="118" lengthAdjust="spacingAndGlyphs">金属硅553昆明港(元/吨)</text>
<text x="673.3" y="995.3" textLength="145" lengthAdjust="spacingAndGlyphs">金属硅553#标准块上海(元/吨)</text>
</g>

<!-- ================= CHART 5 ================= -->
<rect x="97.7" y="1158.3" width="562" height="346" fill="#fff" stroke="#d9d9d9" stroke-width="1"/>
<text x="376.7" y="1198.3" font-size="27" fill="#222" text-anchor="middle" textLength="270" lengthAdjust="spacingAndGlyphs">交易所仓单（手/5吨）</text>
<line x1="241.7" y1="1202.3" x2="511.7" y2="1202.3" stroke="#222" stroke-width="1.3"/>
<g stroke="#d9d9d9" stroke-width="1">
<line x1="210" y1="1229" x2="607" y2="1229"/><line x1="210" y1="1252.6" x2="607" y2="1252.6"/>
<line x1="210" y1="1276.2" x2="607" y2="1276.2"/><line x1="210" y1="1299.8" x2="607" y2="1299.8"/>
<line x1="210" y1="1323.4" x2="607" y2="1323.4"/><line x1="210" y1="1346.9" x2="607" y2="1346.9"/>
<line x1="210" y1="1370.5" x2="607" y2="1370.5"/><line x1="210" y1="1394.1" x2="607" y2="1394.1"/>
<line x1="210" y1="1417.7" x2="607" y2="1417.7"/>
<line x1="210" y1="1417.7" x2="210" y2="1422"/><line x1="236.1" y1="1417.7" x2="236.1" y2="1422"/><line x1="262.1" y1="1417.7" x2="262.1" y2="1422"/><line x1="288.2" y1="1417.7" x2="288.2" y2="1422"/><line x1="314.3" y1="1417.7" x2="314.3" y2="1422"/><line x1="340.4" y1="1417.7" x2="340.4" y2="1422"/><line x1="366.4" y1="1417.7" x2="366.4" y2="1422"/><line x1="392.5" y1="1417.7" x2="392.5" y2="1422"/><line x1="418.6" y1="1417.7" x2="418.6" y2="1422"/><line x1="444.6" y1="1417.7" x2="444.6" y2="1422"/><line x1="470.7" y1="1417.7" x2="470.7" y2="1422"/><line x1="496.8" y1="1417.7" x2="496.8" y2="1422"/><line x1="522.8" y1="1417.7" x2="522.8" y2="1422"/><line x1="548.9" y1="1417.7" x2="548.9" y2="1422"/><line x1="575" y1="1417.7" x2="575" y2="1422"/><line x1="601" y1="1417.7" x2="601" y2="1422"/>
</g>
<g font-size="15.5" fill="#333" text-anchor="end" letter-spacing="1">
<text x="195" y="1234.5">80000.0000</text><text x="195" y="1258.1">70000.0000</text><text x="195" y="1281.7">60000.0000</text>
<text x="195" y="1305.3">50000.0000</text><text x="195" y="1328.9">40000.0000</text><text x="195" y="1352.4">30000.0000</text>
<text x="195" y="1376">20000.0000</text><text x="195" y="1399.6">10000.0000</text><text x="195" y="1423.2">0.0000</text>
</g>
<g font-size="15.5" fill="#333" text-anchor="end" letter-spacing="1" dominant-baseline="central">
<text transform="translate(210.5,1428.3) rotate(-90)">23/6/20</text>
<text transform="translate(236.6,1428.3) rotate(-90)">23/8/20</text>
<text transform="translate(262.6,1428.3) rotate(-90)">23/10/20</text>
<text transform="translate(288.7,1428.3) rotate(-90)">23/12/20</text>
<text transform="translate(314.8,1428.3) rotate(-90)">24/2/20</text>
<text transform="translate(340.9,1428.3) rotate(-90)">24/4/20</text>
<text transform="translate(366.9,1428.3) rotate(-90)">24/6/20</text>
<text transform="translate(393,1428.3) rotate(-90)">24/8/20</text>
<text transform="translate(419.1,1428.3) rotate(-90)">24/10/20</text>
<text transform="translate(445.1,1428.3) rotate(-90)">24/12/20</text>
<text transform="translate(471.2,1428.3) rotate(-90)">25/2/20</text>
<text transform="translate(497.3,1428.3) rotate(-90)">25/4/20</text>
<text transform="translate(523.3,1428.3) rotate(-90)">25/6/20</text>
<text transform="translate(549.4,1428.3) rotate(-90)">25/8/20</text>
<text transform="translate(575.5,1428.3) rotate(-90)">25/10/20</text>
<text transform="translate(601.5,1428.3) rotate(-90)">25/12/20</text>
</g>
<g transform="translate(95,1155) scale(0.33333)">
<polyline class="ln" vector-effect="non-scaling-stroke" stroke="#c00000" stroke-width="3" points="345,785 355,775 365,760 380,745 390,720 400,700 410,680 418,658 430,648 440,625 455,595 470,575 478,560 490,560 495,510 505,520 515,548 525,535 535,520 545,508 550,525 553,788 555,640 562,580 575,560 585,530 598,495 615,480 630,465 645,448 660,448 680,448 695,440 720,438 730,428 745,435 760,435 770,415 785,390 800,380 810,355 825,345 840,322 860,312 875,305 885,320 900,330 915,335 925,350 945,362 960,375 965,368 975,375 985,390 995,405 1005,410 1015,425 1020,436 1023,720 1025,725 1030,580 1040,520 1050,490 1058,445 1068,400 1080,375 1090,355 1100,340 1115,320 1125,302 1145,295 1160,298 1175,295 1190,290 1205,292 1215,300 1225,310 1240,325 1255,340 1270,370 1280,390 1290,410 1305,428 1320,435 1345,430 1375,430 1400,435 1420,428 1435,428 1445,445 1460,455 1475,470 1485,495 1490,505 1492,738 1500,735 1515,722 1535,712"/>
</g>

<!-- ================= CHART 6 ================= -->
<rect x="607.7" y="1159" width="507.3" height="345.3" fill="#fff" stroke="#d9d9d9" stroke-width="1"/>
<text x="860.8" y="1193.3" font-size="19" font-weight="bold" fill="#222" text-anchor="middle" textLength="175" lengthAdjust="spacingAndGlyphs">工业硅4210与553#价差</text>
<line x1="773.3" y1="1196.7" x2="948.3" y2="1196.7" stroke="#222" stroke-width="1.3"/>
<g stroke="#d9d9d9" stroke-width="1">
<line x1="650" y1="1218.3" x2="1103.3" y2="1218.3"/><line x1="650" y1="1254.7" x2="1103.3" y2="1254.7"/>
<line x1="650" y1="1291.2" x2="1103.3" y2="1291.2"/><line x1="650" y1="1327.6" x2="1103.3" y2="1327.6"/>
<line x1="650" y1="1364" x2="1103.3" y2="1364"/><line x1="650" y1="1400.5" x2="1103.3" y2="1400.5"/>
<line x1="650" y1="1436.9" x2="1103.3" y2="1436.9"/><line x1="650" y1="1473.3" x2="1103.3" y2="1473.3"/>
<line x1="650" y1="1473.3" x2="650" y2="1477"/><line x1="731.7" y1="1473.3" x2="731.7" y2="1477"/>
<line x1="812.3" y1="1473.3" x2="812.3" y2="1477"/><line x1="894.3" y1="1473.3" x2="894.3" y2="1477"/>
<line x1="975" y1="1473.3" x2="975" y2="1477"/><line x1="1057" y1="1473.3" x2="1057" y2="1477"/>
</g>
<g font-size="11" fill="#444" text-anchor="end">
<text x="640" y="1222">35000</text><text x="640" y="1258.4">30000</text><text x="640" y="1294.9">25000</text>
<text x="640" y="1331.3">20000</text><text x="640" y="1367.7">15000</text><text x="640" y="1404.2">10000</text>
<text x="640" y="1440.6">5000</text><text x="640" y="1477">0</text>
</g>
<g font-size="12" fill="#444" text-anchor="middle">
<text x="650" y="1492">2020/1/1</text><text x="731.7" y="1492">2021/1/1</text><text x="812.3" y="1492">2022/1/1</text>
<text x="894.3" y="1492">2023/1/1</text><text x="975" y="1492">2024/1/1</text><text x="1057" y="1492">2025/1/1</text>
</g>
<g transform="translate(605,1155) scale(0.33333)">
<polyline class="ln" vector-effect="non-scaling-stroke" stroke="#1f3a52" stroke-width="2.7" points="135,920 165,920 175,930 190,925 200,918 215,915 222,935 230,938 250,935 265,930 280,940 290,918 305,912 330,915 350,925 360,935 380,920 400,910 430,915 455,900 470,905 473,935 480,905 500,910 520,910 525,930 530,915 535,905 540,860 545,820 550,905 553,790 558,770 563,770 567,650 572,630 575,420 580,310 583,350 585,420 588,400 590,500 592,580 595,720 600,740 605,760 612,830 617,880 622,915 630,908 650,908 655,900 665,920 680,890 690,895 700,893 715,885 725,890 732,925 740,910 750,930 770,935 780,910 785,940 800,938 820,940 830,930 840,935 850,915 870,910 900,910 920,915 940,918 960,912 975,928 1000,928 1020,922 1040,940 1060,938 1075,930 1090,935 1100,940 1140,940 1160,940 1168,953 1175,935 1230,930 1240,927 1300,930 1330,935 1360,928 1380,930 1400,940 1420,933 1440,935 1465,940 1480,942 1490,950"/>
</g>
</svg>
</body></html>
